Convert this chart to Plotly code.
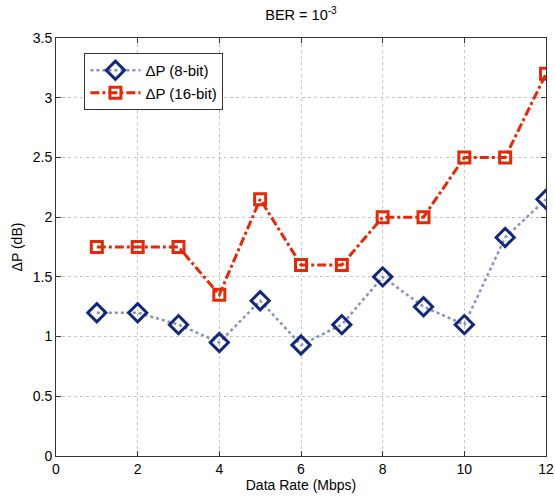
import plotly.graph_objects as go

x_rate = [1, 2, 3, 4, 5, 6, 7, 8, 9, 10, 11, 12]
dp_8bit = [1.2, 1.2, 1.1, 0.95, 1.3, 0.93, 1.1, 1.5, 1.25, 1.1, 1.83, 2.15]
dp_16bit = [1.75, 1.75, 1.75, 1.35, 2.15, 1.6, 1.6, 2.0, 2.0, 2.5, 2.5, 3.2]
x_ticks = [0, 2, 4, 6, 8, 10, 12]
y_ticks = [0, 0.5, 1, 1.5, 2, 2.5, 3, 3.5]

fig = go.Figure()
fig.add_trace(go.Scatter(
    x=x_rate, y=dp_8bit, mode="lines+markers", name="ΔP (8-bit)",
    line=dict(color="#8592c0", width=2.5, dash="dot"),
    marker=dict(symbol="diamond-open", size=14, color="#13287a",
                line=dict(color="#13287a", width=3)),
))
fig.add_trace(go.Scatter(
    x=x_rate, y=dp_16bit, mode="lines+markers", name="ΔP (16-bit)",
    line=dict(color="#e02a0a", width=3, dash="dashdot"),
    marker=dict(symbol="square-open", size=11, color="#e02a0a",
                line=dict(color="#e02a0a", width=3)),
))

axis_common = dict(
    showline=True, linecolor="#333333", linewidth=1, mirror="ticks",
    ticks="inside", ticklen=5, tickcolor="#333333",
    showgrid=True, gridcolor="#c4c4c4", griddash="dot", gridwidth=1,
    zeroline=False, tickfont=dict(size=14, color="#000000"),
    automargin=False, ticklabeloverflow="allow",
)

fig.update_layout(
    width=555, height=501,
    margin=dict(l=56, r=9, t=38, b=45),
    paper_bgcolor="white", plot_bgcolor="white",
    font=dict(family="Liberation Sans, Arial, sans-serif", size=14, color="#000000"),
    title=dict(text="BER = 10<sup>-3</sup>", xref="paper", x=0.5, xanchor="center",
               yref="container", y=0.97, yanchor="middle", font=dict(size=14.5)),
    xaxis=dict(range=[0, 12], tickvals=x_ticks,
               title=dict(text="Data Rate (Mbps)", standoff=2, font=dict(size=14)),
               **axis_common),
    yaxis=dict(range=[0, 3.5], tickvals=y_ticks,
               title=dict(text="ΔP (dB)", standoff=6, font=dict(size=14)),
               **axis_common),
    legend=dict(x=0.058, y=0.964, xanchor="left", yanchor="top",
                bordercolor="#333333", borderwidth=1, bgcolor="white",
                font=dict(size=15), tracegroupgap=0, itemwidth=50),
    showlegend=True,
)

fig.write_html("out.html",
               config={"displayModeBar": False},
               post_script="document.body.style.margin='0';document.body.style.overflow='hidden';")
